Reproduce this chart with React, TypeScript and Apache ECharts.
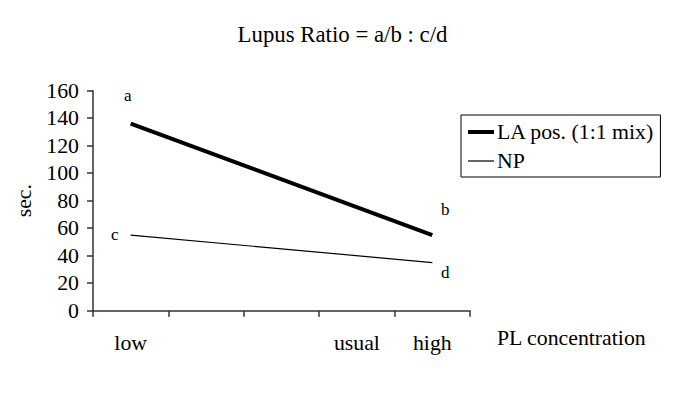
import React, { useEffect, useRef } from "react";
import * as echarts from "echarts";

const titleText = "Lupus Ratio = a/b : c/d";
const categories = ["low", "", "", "usual", "high"];
const laName = "LA pos. (1:1 mix)";
const npName = "NP";
const laValues: (number | null)[] = [136, null, null, null, 55];
const npValues: (number | null)[] = [55, null, null, null, 35];
const laPointLabels = ["a", "", "", "", "b"];
const npPointLabels = ["c", "", "", "", "d"];
const yMin = 0;
const yMax = 160;
const yStep = 20;

const FONT = "'Liberation Serif', 'Times New Roman', serif";
const FS = 21.8;

const laOffsets: [number, number][] = [[-3, -28], [0, 0], [0, 0], [0, 0], [13, -26]];
const npOffsets: [number, number][] = [[-16, -1], [0, 0], [0, 0], [0, 0], [13, 10]];

function buildData(values: (number | null)[], labels: string[], offsets: [number, number][]) {
  return values.map((v, i) =>
    v === null
      ? "-"
      : {
          value: v,
          label: {
            show: labels[i] !== "",
            formatter: labels[i],
            position: "inside",
            offset: offsets[i],
            color: "#000",
            fontFamily: FONT,
            fontSize: 17,
          },
        }
  );
}

export default function App() {
  const ref = useRef<HTMLDivElement>(null);
  useEffect(() => {
    if (!ref.current) return;
    const chart = echarts.init(ref.current, undefined, { renderer: "svg" });
    chart.setOption({
      animation: false,
      backgroundColor: "#fff",
      textStyle: { fontFamily: FONT, color: "#000" },
      title: {
        text: titleText,
        left: "center",
        top: 18,
        textStyle: { fontFamily: FONT, fontSize: 22.8, fontWeight: "normal", color: "#000" },
      },
      legend: {
        orient: "vertical",
        left: 461,
        top: 115,
        padding: [6, 6, 5, 5],
        itemGap: 7,
        itemWidth: 26,
        itemHeight: 14,
        borderColor: "#000",
        borderWidth: 1,
        borderRadius: 0,
        itemStyle: { opacity: 0 },
        textStyle: { fontFamily: FONT, fontSize: FS, color: "#000", padding: [0, 0, 0, -2] },
        data: [
          { name: laName, lineStyle: { width: 4, color: "#000" } },
          { name: npName, lineStyle: { width: 1.2, color: "#000" } },
        ],
      },
      grid: { left: 93, right: 215, top: 90.7, bottom: 107.3, containLabel: false },
      xAxis: {
        type: "category",
        data: categories,
        boundaryGap: true,
        name: "PL concentration",
        nameLocation: "end",
        nameGap: 27,
        nameTextStyle: {
          fontFamily: FONT,
          fontSize: FS,
          color: "#000",
          align: "left",
          verticalAlign: "top",
          padding: [16, 0, 0, 0],
        },
        axisLine: { lineStyle: { color: "#333", width: 1.5 } },
        axisTick: { show: true, length: 6, lineStyle: { color: "#333", width: 1.5 } },
        axisLabel: { fontFamily: FONT, fontSize: FS, color: "#000", margin: 21, interval: 0 },
        splitLine: { show: false },
      },
      yAxis: {
        type: "value",
        min: yMin,
        max: yMax,
        interval: yStep,
        name: "sec.",
        nameLocation: "middle",
        nameRotate: 90,
        nameGap: 56,
        nameTextStyle: { fontFamily: FONT, fontSize: FS, color: "#000" },
        axisLine: { show: true, lineStyle: { color: "#333", width: 1.5 } },
        axisTick: { show: true, length: 6, lineStyle: { color: "#333", width: 1.5 } },
        axisLabel: { fontFamily: FONT, fontSize: FS, color: "#000", margin: 14 },
        splitLine: { show: false },
      },
      series: [
        {
          name: laName,
          type: "line",
          data: buildData(laValues, laPointLabels, laOffsets),
          connectNulls: true,
          symbol: "circle",
          symbolSize: 1,
          showSymbol: true,
          itemStyle: { color: "rgba(0,0,0,0)" },
          lineStyle: { color: "#000", width: 4 },
          emphasis: { disabled: true },
        },
        {
          name: npName,
          type: "line",
          data: buildData(npValues, npPointLabels, npOffsets),
          connectNulls: true,
          symbol: "circle",
          symbolSize: 1,
          showSymbol: true,
          itemStyle: { color: "rgba(0,0,0,0)" },
          lineStyle: { color: "#000", width: 1.2 },
          emphasis: { disabled: true },
        },
      ],
    });
    return () => chart.dispose();
  }, []);
  return (
    <div
      ref={ref}
      style={{ position: "fixed", left: 0, top: 0, width: 685, height: 418 }}
    />
  );
}
